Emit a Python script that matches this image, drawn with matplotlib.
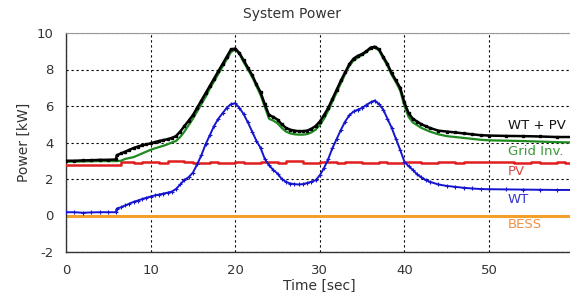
import matplotlib
matplotlib.use("Agg")
import matplotlib.pyplot as plt

plt.rcParams['font.family'] = ['DejaVu Sans']
plt.rcParams['axes.unicode_minus'] = False

# time axis (s)
t = [0, 1, 2, 3, 4, 5, 5.9, 6.0, 6.5, 7, 7.5, 8, 8.5, 9, 9.5, 10, 10.5, 11, 11.5, 12,
     12.5, 13, 13.5, 14, 14.5, 15, 15.5, 16, 16.5, 17, 17.5, 18, 18.5, 19, 19.5, 20,
     20.5, 21, 21.5, 22, 22.5, 23, 23.5, 24, 24.5, 25, 25.5, 26, 26.5, 27, 27.5, 28,
     28.5, 29, 29.5, 30, 30.5, 31, 31.5, 32, 32.5, 33, 33.5, 34, 34.5, 35, 35.5, 36,
     36.5, 37, 37.5, 38, 38.5, 39, 39.5, 40, 40.5, 41, 41.5, 42, 42.5, 43, 44, 45, 46,
     47, 48, 49, 50, 52, 54, 56, 58, 60]

wt_pv = [3.0, 3.0, 3.02, 3.03, 3.05, 3.05, 3.07, 3.3, 3.4, 3.5, 3.6, 3.7, 3.78, 3.85, 3.9, 3.95, 4.02, 4.08, 4.13, 4.18,
         4.25, 4.35, 4.6, 4.9, 5.2, 5.5, 5.9, 6.3, 6.7, 7.1, 7.5, 7.9, 8.3, 8.7, 9.1, 9.15,
         8.9, 8.5, 8.1, 7.7, 7.2, 6.75, 6.1, 5.5, 5.4, 5.25, 5.0, 4.8, 4.7, 4.65, 4.62, 4.62,
         4.65, 4.75, 4.9, 5.15, 5.5, 5.9, 6.4, 6.9, 7.4, 7.85, 8.3, 8.6, 8.75, 8.85, 9.0, 9.2,
         9.25, 9.1, 8.7, 8.3, 7.8, 7.4, 7.0, 6.2, 5.6, 5.3, 5.15, 5.0, 4.9, 4.8, 4.65, 4.6, 4.55,
         4.5, 4.45, 4.4, 4.38, 4.36, 4.35, 4.33, 4.3, 4.3]

grid_inv = [2.95, 2.95, 2.96, 2.97, 2.98, 2.98, 2.98, 2.98, 3.0, 3.1, 3.15, 3.2, 3.3, 3.4, 3.5, 3.6, 3.68, 3.75, 3.82, 3.9,
            4.0, 4.08, 4.3, 4.6, 4.95, 5.3, 5.7, 6.1, 6.5, 6.95, 7.35, 7.75, 8.15, 8.55, 8.95, 9.1,
            8.85, 8.4, 8.0, 7.6, 7.1, 6.6, 5.95, 5.3, 5.2, 5.05, 4.8, 4.6, 4.5, 4.45, 4.43, 4.43,
            4.46, 4.55, 4.7, 4.95, 5.3, 5.75, 6.25, 6.75, 7.25, 7.75, 8.2, 8.5, 8.65, 8.8, 8.95, 9.15,
            9.2, 9.05, 8.6, 8.2, 7.7, 7.3, 6.85, 6.0, 5.4, 5.1, 4.95, 4.8, 4.7, 4.6, 4.45, 4.35, 4.3,
            4.25, 4.2, 4.15, 4.12, 4.1, 4.08, 4.05, 4.02, 4.0]

wt = [0.18, 0.18, 0.15, 0.17, 0.18, 0.18, 0.18, 0.38, 0.45, 0.55, 0.65, 0.75, 0.82, 0.9, 0.97, 1.04, 1.1, 1.15, 1.2, 1.25,
      1.31, 1.45, 1.7, 1.95, 2.1, 2.35, 2.8, 3.3, 3.9, 4.4, 4.9, 5.3, 5.6, 5.9, 6.1, 6.15,
      5.9, 5.55, 5.1, 4.6, 4.1, 3.7, 3.1, 2.75, 2.5, 2.3, 2.0, 1.85, 1.75, 1.72, 1.7, 1.72,
      1.78, 1.85, 1.93, 2.2, 2.6, 3.1, 3.7, 4.2, 4.7, 5.15, 5.5, 5.7, 5.8, 5.9, 6.05, 6.2,
      6.3, 6.1, 5.8, 5.3, 4.8, 4.2, 3.6, 2.95, 2.7, 2.5, 2.25, 2.1, 1.95, 1.85, 1.7, 1.62, 1.57,
      1.52, 1.48, 1.45, 1.44, 1.43, 1.42, 1.41, 1.4, 1.4]

t_pv = [0, 2, 4, 6, 6.5, 8, 9, 11, 12, 14, 15, 17, 18, 20, 21, 23, 25, 26, 28, 30, 32, 33, 35,
        37, 38, 40, 42, 44, 46, 47, 49, 51, 53, 55, 56, 58, 59, 60]
pv = [2.75, 2.76, 2.75, 2.77, 2.93, 2.9, 2.95, 2.9, 2.96, 2.92, 2.88, 2.95, 2.9, 2.93, 2.87, 2.94, 2.9, 2.96, 2.9, 2.93, 2.88, 2.95,
      2.9, 2.94, 2.88, 2.95, 2.9, 2.93, 2.88, 2.94, 2.91, 2.93, 2.89, 2.94, 2.9, 2.93, 2.85, 2.9]

t_bess = [0, 60]
bess = [0.0, 0.0]

labels = ["WT + PV", "Grid Inv.", "PV", "WT", "BESS"]
label_y = [4.92, 3.48, 2.43, 0.86, -0.49]
colors = ["#000000", "#1f8a1f", "#e01e1e", "#1515d0", "#f2a02a"]
label_colors = ["#111111", "#3a9a3a", "#e04545", "#3535cc", "#f09040"]

xticks = [0, 10, 20, 30, 40, 50]
yticks = [-2, 0, 2, 4, 6, 8, 10]

fig = plt.figure(figsize=(5.7, 2.92), dpi=100)
ax = fig.add_axes([66 / 570, 40 / 292, 507.6 / 570, 219 / 292])

ax.plot(t_bess, bess, color=colors[4], lw=2.2, zorder=2)
ax.plot(t_pv, pv, color=colors[2], lw=1.8, drawstyle='steps-post', zorder=3)
ax.plot(t, wt, color=colors[3], lw=1.4, marker='+', ms=3, mew=0.8, zorder=4)
ax.plot(t, grid_inv, color=colors[1], lw=1.6, zorder=5)
ax.plot(t, wt_pv, color=colors[0], lw=1.8, marker='s', ms=1.8, zorder=6)

for lab, yy, c in zip(labels, label_y, label_colors):
    ax.text(52.2, yy, lab, color=c, fontsize=9.5, va='center', ha='left', clip_on=False, zorder=7)

ax.set_xlim(0, 60)
ax.set_ylim(-2, 10)
ax.set_xticks(xticks)
ax.set_yticks(yticks)
ax.tick_params(length=0, labelsize=9.5, colors='#333333', pad=9)
ax.grid(True, color='black', linestyle=(0, (2, 2.5)), lw=0.8)
for s in ['left', 'bottom']:
    ax.spines[s].set_color('#333333')
    ax.spines[s].set_linewidth(1.0)
ax.spines['top'].set_color('#999999')
ax.spines['right'].set_visible(False)

ax.set_xlabel("Time [sec]", fontsize=10, color='#333333', labelpad=1)
ax.set_ylabel("Power [kW]", fontsize=10, color='#333333', labelpad=4)
fig.text(292 / 570, 1 - 14 / 292, "System Power", fontsize=10, color='#333333', ha='center', va='center')

fig.savefig("out.png", dpi=100)
